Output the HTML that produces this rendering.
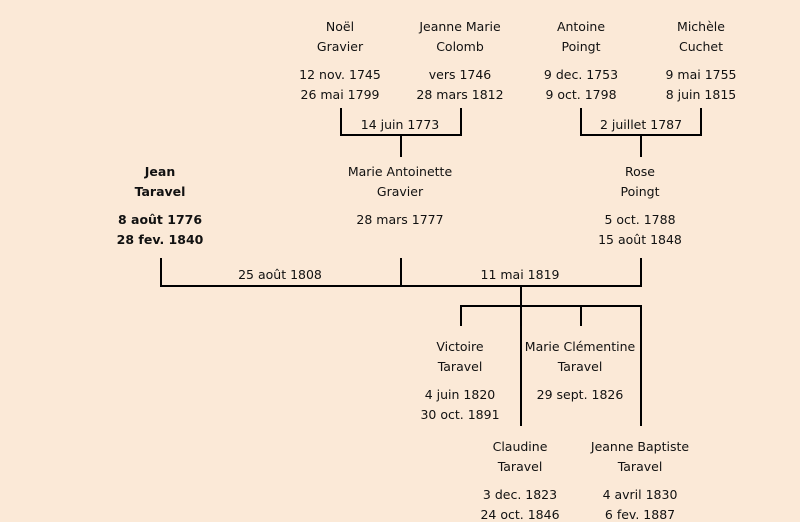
<!DOCTYPE html>
<html><head><meta charset="utf-8"><style>
body{margin:0;width:800px;height:521px;background:#fbe9d7;position:relative;overflow:hidden;font-family:"Comic Sans MS","DejaVu Sans","Liberation Sans",sans-serif;font-size:12.5px;color:#111}
.t{position:absolute;width:200px;margin-left:-100px;text-align:center;line-height:14px;white-space:nowrap}
.b{font-weight:bold}
.l{position:absolute;background:#000}
</style></head><body>
<div class="t" style="left:340px;top:20px">Noël</div>
<div class="t" style="left:340px;top:40px">Gravier</div>
<div class="t" style="left:340px;top:68px">12 nov. 1745</div>
<div class="t" style="left:340px;top:88px">26 mai 1799</div>
<div class="t" style="left:460px;top:20px">Jeanne Marie</div>
<div class="t" style="left:460px;top:40px">Colomb</div>
<div class="t" style="left:460px;top:68px">vers 1746</div>
<div class="t" style="left:460px;top:88px">28 mars 1812</div>
<div class="t" style="left:581px;top:20px">Antoine</div>
<div class="t" style="left:581px;top:40px">Poingt</div>
<div class="t" style="left:581px;top:68px">9 dec. 1753</div>
<div class="t" style="left:581px;top:88px">9 oct. 1798</div>
<div class="t" style="left:701px;top:20px">Michèle</div>
<div class="t" style="left:701px;top:40px">Cuchet</div>
<div class="t" style="left:701px;top:68px">9 mai 1755</div>
<div class="t" style="left:701px;top:88px">8 juin 1815</div>

<div class="l" style="left:340px;top:108px;width:2px;height:28px"></div>
<div class="l" style="left:460px;top:108px;width:2px;height:28px"></div>
<div class="l" style="left:340px;top:134px;width:122px;height:2px"></div>
<div class="l" style="left:400px;top:134px;width:2px;height:23px"></div>
<div class="t" style="left:400px;top:118px">14 juin 1773</div>
<div class="l" style="left:580px;top:108px;width:2px;height:28px"></div>
<div class="l" style="left:700px;top:108px;width:2px;height:28px"></div>
<div class="l" style="left:580px;top:134px;width:122px;height:2px"></div>
<div class="l" style="left:640px;top:134px;width:2px;height:23px"></div>
<div class="t" style="left:641px;top:118px">2 juillet 1787</div>

<div class="t b" style="left:160px;top:165px">Jean</div>
<div class="t b" style="left:160px;top:185px">Taravel</div>
<div class="t b" style="left:160px;top:213px">8 août 1776</div>
<div class="t b" style="left:160px;top:233px">28 fev. 1840</div>
<div class="t" style="left:400px;top:165px">Marie Antoinette</div>
<div class="t" style="left:400px;top:185px">Gravier</div>
<div class="t" style="left:400px;top:213px">28 mars 1777</div>
<div class="t" style="left:640px;top:165px">Rose</div>
<div class="t" style="left:640px;top:185px">Poingt</div>
<div class="t" style="left:640px;top:213px">5 oct. 1788</div>
<div class="t" style="left:640px;top:233px">15 août 1848</div>

<div class="l" style="left:160px;top:258px;width:2px;height:29px"></div>
<div class="l" style="left:400px;top:258px;width:2px;height:29px"></div>
<div class="l" style="left:640px;top:258px;width:2px;height:29px"></div>
<div class="l" style="left:160px;top:285px;width:482px;height:2px"></div>
<div class="t" style="left:280px;top:268px">25 août 1808</div>
<div class="t" style="left:520px;top:268px">11 mai 1819</div>

<div class="l" style="left:520px;top:285px;width:2px;height:141px"></div>
<div class="l" style="left:460px;top:305px;width:182px;height:2px"></div>
<div class="l" style="left:460px;top:305px;width:2px;height:21px"></div>
<div class="l" style="left:580px;top:305px;width:2px;height:21px"></div>
<div class="l" style="left:640px;top:305px;width:2px;height:121px"></div>

<div class="t" style="left:460px;top:340px">Victoire</div>
<div class="t" style="left:460px;top:360px">Taravel</div>
<div class="t" style="left:460px;top:388px">4 juin 1820</div>
<div class="t" style="left:460px;top:408px">30 oct. 1891</div>
<div class="t" style="left:580px;top:340px">Marie Clémentine</div>
<div class="t" style="left:580px;top:360px">Taravel</div>
<div class="t" style="left:580px;top:388px">29 sept. 1826</div>
<div class="t" style="left:520px;top:440px">Claudine</div>
<div class="t" style="left:520px;top:460px">Taravel</div>
<div class="t" style="left:520px;top:488px">3 dec. 1823</div>
<div class="t" style="left:520px;top:508px">24 oct. 1846</div>
<div class="t" style="left:640px;top:440px">Jeanne Baptiste</div>
<div class="t" style="left:640px;top:460px">Taravel</div>
<div class="t" style="left:640px;top:488px">4 avril 1830</div>
<div class="t" style="left:640px;top:508px">6 fev. 1887</div>
</body></html>
